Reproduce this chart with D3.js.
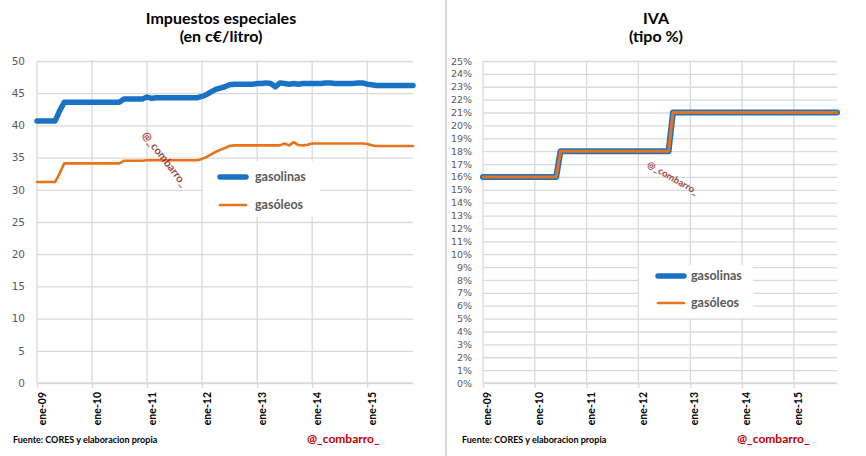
<!DOCTYPE html>
<html><head><meta charset="utf-8">
<script src="https://cdn.jsdelivr.net/npm/d3@7"></script>
<style>body{margin:0;background:#fff}svg{display:block}</style>
</head><body>
<svg id="c" width="866" height="456"></svg>
<script>
// ---- data (monthly, ene-2009 .. nov-2015) ----
const startMonth = new Date(2009, 0, 1);
const gasolinas = [40.7,40.7,40.7,40.7,40.7,42.3,
  43.6,43.6,43.6,43.6,43.6,43.6,43.6,43.6,43.6,43.6,43.6,43.6,43.6,
  44.1,44.1,44.1,44.1,44.1,
  44.4,44.2,44.3,44.3,44.3,44.3,44.3,44.3,44.3,44.3,44.3,44.3,
  44.5,44.8,45.2,45.6,45.8,46.0,46.3,
  46.4,46.4,46.4,46.4,46.4,46.5,46.5,46.6,46.5,46.0,46.6,46.5,46.4,46.5,46.4,46.5,46.5,
  46.5,46.5,46.5,46.6,46.6,46.5,46.5,46.5,46.5,46.5,46.6,46.6,46.4,46.3,
  46.2,46.2,46.2,46.2,46.2,46.2,46.2,46.2,46.2];
const gasoleos = [31.2,31.2,31.2,31.2,31.2,32.6,
  34.1,34.1,34.1,34.1,34.1,34.1,34.1,34.1,34.1,34.1,34.1,34.1,34.1,
  34.5,34.5,34.5,34.5,34.5,
  34.6,34.6,34.6,34.6,34.6,34.6,34.6,34.6,34.6,34.6,34.6,34.6,
  34.8,35.1,35.5,35.9,36.2,36.5,36.8,
  36.9,36.9,36.9,36.9,36.9,36.9,36.9,36.9,36.9,36.9,36.9,
  37.2,36.9,37.4,36.95,36.9,37.0,
  37.2,37.2,37.2,37.2,37.2,37.2,37.2,37.2,37.2,37.2,37.2,37.2,
  37.1,36.9,
  36.8,36.8,36.8,36.8,36.8,36.8,36.8,36.8,36.8];
const ivaGasolinas = [0.16,0.16,0.16,0.16,0.16,0.16,0.16,0.16,0.16,0.16,0.16,0.16,0.16,0.16,0.16,0.16,0.16,0.16,
  0.18,0.18,0.18,0.18,0.18,0.18,0.18,0.18,0.18,0.18,0.18,0.18,0.18,0.18,0.18,0.18,0.18,0.18,0.18,0.18,0.18,0.18,0.18,0.18,0.18,0.18,
  0.21,0.21,0.21,0.21,0.21,0.21,0.21,0.21,0.21,0.21,0.21,0.21,0.21,0.21,0.21,0.21,0.21,0.21,0.21,0.21,
  0.21,0.21,0.21,0.21,0.21,0.21,0.21,0.21,0.21,0.21,0.21,0.21,0.21,0.21,0.21,0.21,0.21,0.21,0.21];
const ivaGasoleos = [0.16,0.16,0.16,0.16,0.16,0.16,0.16,0.16,0.16,0.16,0.16,0.16,0.16,0.16,0.16,0.16,0.16,0.16,
  0.18,0.18,0.18,0.18,0.18,0.18,0.18,0.18,0.18,0.18,0.18,0.18,0.18,0.18,0.18,0.18,0.18,0.18,0.18,0.18,0.18,0.18,0.18,0.18,0.18,0.18,
  0.21,0.21,0.21,0.21,0.21,0.21,0.21,0.21,0.21,0.21,0.21,0.21,0.21,0.21,0.21,0.21,0.21,0.21,0.21,0.21,
  0.21,0.21,0.21,0.21,0.21,0.21,0.21,0.21,0.21,0.21,0.21,0.21,0.21,0.21,0.21,0.21,0.21,0.21,0.21];
const tickYears = [2009,2010,2011,2012,2013,2014,2015];
const tickLabels = ["ene-09","ene-10","ene-11","ene-12","ene-13","ene-14","ene-15"];
const seriesNames = ["gasolinas","gasóleos"];
const leftTicks = [0,5,10,15,20,25,30,35,40,45,50];
const rightTicks = [0,0.01,0.02,0.03,0.04,0.05,0.06,0.07,0.08,0.09,0.10,0.11,0.12,0.13,0.14,0.15,0.16,0.17,0.18,0.19,0.20,0.21,0.22,0.23,0.24,0.25];

const BLUE = "#1A72C4", ORANGE = "#E8731A", GRID = "#D9D9D9";
const dates = gasolinas.map((_, i) => d3.timeMonth.offset(startMonth, i));
const svg = d3.select("#c");

function panel(o) {
  const g = svg.append("g");
  const x = d3.scaleTime().domain([dates[0], dates[dates.length - 1]]).range([o.x0, o.x1]);
  const y = d3.scaleLinear().domain(o.yDomain).range([383, 61]);
  const tickDates = tickYears.map(yr => new Date(yr, 0, 1));

  // horizontal grid + y labels
  const ya = g.append("g").attr("transform", `translate(${o.x0},0)`)
    .call(d3.axisLeft(y).tickValues(o.yTicks).tickSize(-(o.x1 - o.x0)).tickPadding(o.pad).tickFormat(o.fmt));
  ya.select(".domain").remove();
  ya.selectAll("line").attr("stroke", GRID).attr("stroke-width", 1.3);
  ya.selectAll("text").attr("fill", "#595959").attr("font-family", "DejaVu Sans").attr("font-size", o.yFont);

  // vertical grid
  g.append("g").selectAll("line").data(tickDates).join("line")
    .attr("x1", d => x(d)).attr("x2", d => x(d)).attr("y1", 61).attr("y2", 383)
    .attr("stroke", GRID).attr("stroke-width", 1.3);

  // x axis
  const xa = g.append("g").attr("transform", "translate(0,383)")
    .call(d3.axisBottom(x).tickValues(tickDates).tickSize(5).tickFormat((d, i) => tickLabels[i]));
  xa.select(".domain").attr("stroke", GRID).attr("stroke-width", 1.3).attr("d", `M${o.x0},0H${o.x1}`);
  xa.selectAll("line").attr("stroke", GRID).attr("stroke-width", 1.3);
  xa.selectAll("text").attr("transform", "rotate(-90)").attr("text-anchor", "end")
    .attr("x", -9).attr("y", o.lblOff).attr("dy", "0.35em")
    .attr("fill", "#000").attr("font-family", "Lato").attr("font-weight", "bold").attr("font-size", 10.5);

  // lines
  const line = vals => d3.line().x((d, i) => x(dates[i])).y(d => y(d))(vals);
  g.append("path").attr("d", line(o.s1)).attr("fill", "none").attr("stroke", BLUE)
    .attr("stroke-width", o.w1).attr("stroke-linejoin", "round").attr("stroke-linecap", "round");
  g.append("path").attr("d", line(o.s2)).attr("fill", "none").attr("stroke", ORANGE)
    .attr("stroke-width", o.w2).attr("stroke-linejoin", "round").attr("stroke-linecap", "round");

  // legend
  const L = o.legend;
  g.append("rect").attr("x", L.x).attr("y", L.y).attr("width", L.w).attr("height", L.h).attr("fill", "#fff");
  [[BLUE, 5.5, L.r1], [ORANGE, 2.6, L.r2]].forEach(([c, w, yy], i) => {
    g.append("line").attr("x1", L.lx).attr("x2", L.lx + 26).attr("y1", yy).attr("y2", yy)
      .attr("stroke", c).attr("stroke-width", w).attr("stroke-linecap", "round");
    g.append("text").attr("x", L.tx).attr("y", yy).attr("dy", "0.35em").text(seriesNames[i])
      .attr("font-family", "Lato").attr("font-weight", "bold").attr("font-size", 12.5).attr("fill", "#595959");
  });

  // titles
  o.title.forEach((t, i) => g.append("text").attr("x", o.tx).attr("y", 24 + i * 18).attr("text-anchor", "middle")
    .text(t).attr("font-family", "Lato").attr("font-weight", "bold").attr("font-size", 16).attr("fill", "#000"));

  // footers
  g.append("text").attr("x", o.fx).attr("y", 443).text("Fuente: CORES y elaboracion propia")
    .attr("font-family", "Lato").attr("font-weight", "bold").attr("font-size", 9).attr("fill", "#000");
  g.append("text").attr("x", o.ax).attr("y", 443).text("@_combarro_")
    .attr("font-family", "Lato").attr("font-weight", "bold").attr("font-size", 12).attr("fill", "#C00000");

  // watermark
  g.append("text").attr("transform", `translate(${o.wm[0]},${o.wm[1]}) rotate(${o.wm[2]})`)
    .attr("text-anchor", "middle").attr("dy", "0.35em").text("@_combarro_")
    .attr("font-family", "Lato").attr("font-weight", "bold").attr("font-size", o.wm[3])
    .attr("fill", "#8B2525").attr("opacity", 0.85);
}

panel({x0: 37, x1: 413, yDomain: [0, 50], yTicks: leftTicks, pad: 12, fmt: d3.format("d"), yFont: 10.5,
  lblOff: 4.5, s1: gasolinas, s2: gasoleos, w1: 5.5, w2: 2.6,
  legend: {x: 203, y: 161, w: 117, h: 56, lx: 220, tx: 255, r1: 177, r2: 205},
  title: ["Impuestos especiales", "(en c€/litro)"], tx: 221, fx: 13, ax: 307, wm: [165, 159, 52, 11]});

panel({x0: 483, x1: 837, yDomain: [0, 0.25], yTicks: rightTicks, pad: 11, fmt: d3.format(".0%"), yFont: 9.5,
  lblOff: 4, s1: ivaGasolinas, s2: ivaGasoleos, w1: 6, w2: 3,
  legend: {x: 639, y: 265, w: 114, h: 53, lx: 658, tx: 691, r1: 276, r2: 303},
  title: ["IVA", "(tipo %)"], tx: 656, fx: 462, ax: 737, wm: [673, 178, 30, 9.5]});

// separator between the two charts
svg.append("line").attr("x1", 446).attr("x2", 446).attr("y1", 0).attr("y2", 456)
  .attr("stroke", GRID).attr("stroke-width", 2);
</script>
</body></html>
